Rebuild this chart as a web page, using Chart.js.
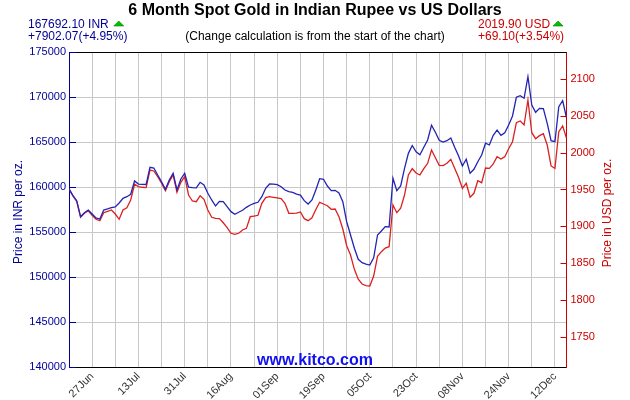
<!DOCTYPE html>
<html>
<head>
<meta charset="utf-8">
<script src="https://cdn.jsdelivr.net/npm/chart.js@4.4.0/dist/chart.umd.min.js"></script>
<style>
  html, body { margin: 0; padding: 0; background: #fff; }
  #wrap { width: 630px; height: 400px; }
</style>
</head>
<body>
<div id="wrap"><canvas id="goldChart" width="630" height="400"></canvas></div>
<script>
// ==========================================
// Data (one value per trading day, 19 Jun .. 15 Dec)
// ==========================================

const inrValues = [
    159790, 159080, 158480, 156700, 157140, 157440, 157000, 156560, 156440, 157440,
    157560, 157700, 157780, 158220, 158740, 158920, 159190, 160670, 160330, 160300,
    160280, 162190, 162110, 161330, 160590, 159740, 160780, 161520, 159670, 160890,
    161520, 159970, 159920, 159900, 160520, 160220, 159300, 158560, 157890, 158410,
    158380, 157810, 157260, 156970, 157190, 157410, 157740, 158000, 158190, 158300,
    158920, 159860, 160330, 160310, 160260, 160030, 159670, 159480, 159410, 159220,
    159110, 158480, 158110, 158560, 159670, 160920, 160860, 160110, 159590, 159630,
    159330, 158370, 156140, 154670, 153190, 151970, 151590, 151440, 151330, 152140,
    154670, 155110, 155590, 155560, 160970, 159590, 160110, 162080, 163740, 164610,
    163920, 163590, 164410, 165220, 166860, 166080, 165190, 165000, 165140, 165440,
    164410, 163480, 162330, 163080, 161520, 161970, 162810, 163560, 164860, 164670,
    165740, 166330, 165740, 166030, 166890, 167890, 169970, 170140, 169860, 172260,
    169110, 168300, 168740, 168700, 167080, 165140, 165030, 168920, 169590, 167692.10
];

const usdValues = [
    1950.8, 1941.2, 1934.0, 1912.3, 1917.7, 1921.2, 1915.0, 1909.6, 1907.7, 1918.5,
    1920.4, 1922.2, 1916.7, 1909.6, 1922.2, 1925.3, 1935.7, 1957.0, 1953.8, 1953.0,
    1952.6, 1976.4, 1975.1, 1967.3, 1958.4, 1948.4, 1960.6, 1969.7, 1946.2, 1959.7,
    1967.3, 1942.5, 1934.4, 1933.4, 1941.6, 1936.7, 1922.2, 1912.3, 1910.9, 1910.6,
    1904.9, 1898.2, 1890.6, 1889.2, 1890.6, 1895.0, 1897.3, 1913.1, 1914.0, 1915.0,
    1931.3, 1938.9, 1940.2, 1939.4, 1938.5, 1937.5, 1931.3, 1917.7, 1917.5, 1917.9,
    1919.5, 1910.4, 1907.7, 1911.7, 1922.9, 1932.6, 1930.3, 1928.0, 1923.1, 1923.5,
    1913.1, 1896.4, 1873.7, 1861.1, 1841.7, 1828.2, 1821.8, 1819.5, 1819.1, 1832.6,
    1859.4, 1865.6, 1870.6, 1872.4, 1929.0, 1918.5, 1924.5, 1942.5, 1969.7, 1978.2,
    1972.4, 1969.7, 1978.2, 1985.5, 2003.6, 1993.1, 1982.8, 1982.3, 1985.5, 1990.9,
    1978.7, 1966.5, 1951.6, 1958.4, 1939.4, 1944.8, 1961.9, 1959.2, 1979.1, 1978.7,
    1984.6, 1994.5, 1991.4, 1994.5, 2005.3, 2014.8, 2040.6, 2042.9, 2037.5, 2071.4,
    2027.0, 2018.9, 2023.0, 2025.7, 2010.3, 1981.9, 1978.7, 2028.4, 2036.1, 2019.9
];

// x-axis labels sit on every 12th trading day
const xLabelIndex = [6, 18, 30, 42, 54, 66, 78, 90, 102, 114, 126];
const xLabels = ['27Jun', '13Jul', '31Jul', '16Aug', '01Sep', '19Sep', '05Oct', '23Oct', '08Nov', '24Nov', '12Dec'];

const inrTicks = [140000, 145000, 150000, 155000, 160000, 165000, 170000, 175000];
const usdTicks = [1750, 1800, 1850, 1900, 1950, 2000, 2050, 2100];

const headerInr = ['167692.10 INR', '+7902.07(+4.95%)'];
const headerUsd = ['2019.90 USD', '+69.10(+3.54%)'];

// both lines start at the same pixel: USD axis = INR axis / start rate
const startRate = inrValues[0] / usdValues[0];

const NAVY = '#000099';
const RED = '#cc0000';
const GRID = '#c8c8c8';
const FONT = "'Liberation Sans', Arial, sans-serif";

// ==========================================
// Decorations
// ==========================================

function drawTriangle(ctx, x, y) {
    ctx.beginPath();
    ctx.moveTo(x, y + 5);
    ctx.lineTo(x + 10, y + 5);
    ctx.lineTo(x + 5, y);
    ctx.closePath();
    ctx.fillStyle = '#00c000';
    ctx.fill();
    ctx.strokeStyle = '#008000';
    ctx.lineWidth = 0.6;
    ctx.stroke();
}

const decorPlugin = {
    id: 'decor',
    afterDraw(chart) {
        const ctx = chart.ctx;
        const area = chart.chartArea;
        const yL = chart.scales.y;
        const yR = chart.scales.y1;
        ctx.save();

        // top border
        ctx.strokeStyle = '#000';
        ctx.lineWidth = 1;
        ctx.beginPath();
        ctx.moveTo(area.left, area.top + 0.5);
        ctx.lineTo(area.right, area.top + 0.5);
        ctx.stroke();

        // inner tick marks
        ctx.strokeStyle = NAVY;
        inrTicks.forEach(function (v) {
            const py = Math.round(yL.getPixelForValue(v)) + 0.5;
            ctx.beginPath();
            ctx.moveTo(area.left, py);
            ctx.lineTo(area.left + 7, py);
            ctx.stroke();
        });
        ctx.strokeStyle = RED;
        usdTicks.forEach(function (v) {
            const py = Math.round(yR.getPixelForValue(v)) + 0.5;
            ctx.beginPath();
            ctx.moveTo(area.right - 6, py);
            ctx.lineTo(area.right, py);
            ctx.stroke();
        });

        // title + subtitle
        ctx.textAlign = 'center';
        ctx.textBaseline = 'alphabetic';
        ctx.fillStyle = '#000';
        ctx.font = 'bold 16px ' + FONT;
        ctx.fillText('6 Month Spot Gold in Indian Rupee vs US Dollars', 315, 15);
        ctx.font = '12px ' + FONT;
        ctx.fillText('(Change calculation is from the start of the chart)', 315, 40);

        // left header (INR)
        ctx.textAlign = 'left';
        ctx.fillStyle = NAVY;
        ctx.fillText(headerInr[0], 28, 28);
        ctx.fillText(headerInr[1], 28, 40);
        drawTriangle(ctx, 28 + ctx.measureText(headerInr[0]).width + 5, 21);

        // right header (USD)
        ctx.fillStyle = RED;
        ctx.fillText(headerUsd[0], 478, 28);
        ctx.fillText(headerUsd[1], 478, 40);
        drawTriangle(ctx, 478 + ctx.measureText(headerUsd[0]).width + 3, 21);

        // axis titles
        ctx.textAlign = 'center';
        ctx.font = '12px ' + FONT;
        ctx.save();
        ctx.translate(22, 212);
        ctx.rotate(-Math.PI / 2);
        ctx.fillStyle = NAVY;
        ctx.fillText('Price in INR per oz.', 0, 0);
        ctx.restore();
        ctx.save();
        ctx.translate(611, 213);
        ctx.rotate(-Math.PI / 2);
        ctx.fillStyle = RED;
        ctx.fillText('Price in USD per oz.', 0, 0);
        ctx.restore();

        // watermark
        ctx.fillStyle = '#1010f0';
        ctx.font = 'bold 16px ' + FONT;
        ctx.fillText('www.kitco.com', 315, 365);

        ctx.restore();
    }
};

// ==========================================
// Chart Setup
// ==========================================

function createChart() {
    const ctx = document.getElementById('goldChart').getContext('2d');

    new Chart(ctx, {
        type: 'line',
        data: {
            datasets: [
                {
                    label: 'INR',
                    data: inrValues.map(function (v, i) { return { x: i, y: v }; }),
                    borderColor: '#2323b4',
                    borderWidth: 1.3,
                    pointRadius: 0,
                    tension: 0,
                    fill: false,
                    yAxisID: 'y'
                },
                {
                    label: 'USD',
                    data: usdValues.map(function (v, i) { return { x: i, y: v }; }),
                    borderColor: '#dc2020',
                    borderWidth: 1.3,
                    pointRadius: 0,
                    tension: 0,
                    fill: false,
                    yAxisID: 'y1'
                }
            ]
        },
        options: {
            responsive: false,
            animation: false,
            devicePixelRatio: 1,
            layout: { padding: { top: 52, left: 0, right: 0, bottom: 0 } },
            plugins: {
                legend: { display: false },
                tooltip: { enabled: false }
            },
            scales: {
                x: {
                    type: 'linear',
                    min: 0,
                    max: inrValues.length - 1,
                    afterBuildTicks: function (scale) {
                        const t = [];
                        for (let i = 0; i < inrValues.length; i += 6) t.push({ value: i });
                        scale.ticks = t;
                    },
                    afterFit: function (scale) { scale.height = 33; },
                    grid: { color: GRID, drawTicks: false },
                    border: { color: '#000' },
                    ticks: {
                        autoSkip: false,
                        minRotation: 45,
                        maxRotation: 45,
                        padding: 3,
                        color: '#333',
                        font: { family: FONT, size: 11 },
                        callback: function (value) {
                            const k = xLabelIndex.indexOf(value);
                            return k >= 0 ? xLabels[k] : '';
                        }
                    }
                },
                y: {
                    type: 'linear',
                    position: 'left',
                    min: inrTicks[0],
                    max: inrTicks[inrTicks.length - 1],
                    afterBuildTicks: function (scale) {
                        scale.ticks = inrTicks.map(function (v) { return { value: v }; });
                    },
                    afterFit: function (scale) { scale.width = 69; },
                    grid: { color: GRID, drawTicks: false },
                    border: { color: NAVY },
                    ticks: {
                        padding: 3,
                        color: NAVY,
                        font: { family: FONT, size: 11 },
                        callback: function (value) { return String(value); }
                    }
                },
                y1: {
                    type: 'linear',
                    position: 'right',
                    min: inrTicks[0] / startRate,
                    max: inrTicks[inrTicks.length - 1] / startRate,
                    afterBuildTicks: function (scale) {
                        scale.ticks = usdTicks.map(function (v) { return { value: v }; });
                    },
                    afterFit: function (scale) { scale.width = 63.5; },
                    grid: { drawOnChartArea: false, drawTicks: false },
                    border: { color: RED },
                    ticks: {
                        padding: 4,
                        color: RED,
                        font: { family: FONT, size: 11 },
                        callback: function (value) { return String(value); }
                    }
                }
            }
        },
        plugins: [decorPlugin]
    });
}

createChart();
</script>
</body>
</html>
